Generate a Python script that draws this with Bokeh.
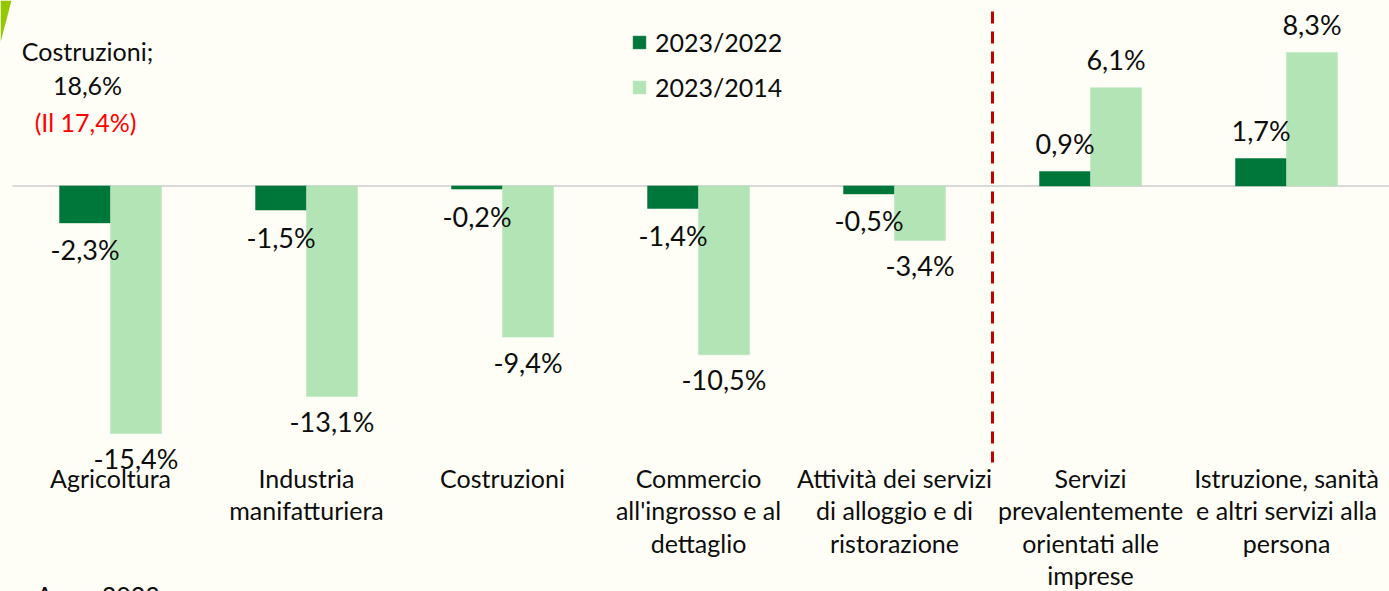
from bokeh.plotting import figure
from bokeh.models import Range1d, ColumnDataSource, Legend, LegendItem
from bokeh.core.properties import value
from bokeh.embed import file_html
from bokeh.resources import INLINE

categories = [
    "Agricoltura",
    "Industria\nmanifatturiera",
    "Costruzioni",
    "Commercio\nall'ingrosso e al\ndettaglio",
    "Attività dei servizi\ndi alloggio e di\nristorazione",
    "Servizi\nprevalentemente\norientati alle\nimprese",
    "Istruzione, sanità\ne altri servizi alla\npersona",
]
v_2023_2022 = [-2.3, -1.5, -0.2, -1.4, -0.5, 0.9, 1.7]
v_2023_2014 = [-15.4, -13.1, -9.4, -10.5, -3.4, 6.1, 8.3]
series_names = ["2023/2022", "2023/2014"]
note_lines = ["Costruzioni;", "18,6%"]
note_red = "(Il 17,4%)"
source_note = "e: Anno 2023"

DARK = "#00773A"
LIGHT = "#B3E4B6"
BG = "#FEFEF6"
FONT = "Lato"
FS_CAT = "25px"
FS_VAL = "27px"
FS_LEG = "25px"
TXT = "#0D0D0D"

W, H = 1389, 591
PX_X = 196.0
PX_Y = 16.08
x0 = -(110.0 / PX_X)
y_top = 185.4 / PX_Y


def dx(px):
    return x0 + px / PX_X


def dy(py):
    return y_top - py / PX_Y


p = figure(width=W, height=H, output_backend="svg", toolbar_location=None,
           x_range=Range1d(x0, x0 + W / PX_X),
           y_range=Range1d(y_top - H / PX_Y, y_top),
           min_border=0, min_border_left=0, min_border_right=0,
           min_border_top=0, min_border_bottom=0)
p.axis.visible = False
p.grid.visible = False
p.outline_line_color = None
p.background_fill_color = BG
p.border_fill_color = BG

idx = list(range(len(categories)))
fmt = lambda v: ("%.1f%%" % v).replace(".", ",")
off = 0.13
bw = 0.26
src = ColumnDataSource(dict(
    x=idx,
    xd=[i - off for i in idx],
    xl=[i + off for i in idx],
    d=v_2023_2022,
    l=v_2023_2014,
    dlab=[fmt(v) for v in v_2023_2022],
    llab=[fmt(v) for v in v_2023_2014],
    dof=[27 if v < 0 else -28 for v in v_2023_2022],
    lof=[25 if v < 0 else -28 for v in v_2023_2014],
    cat=categories,
))

# decorative corner shape
p.patch(x=[dx(0), dx(11), dx(0)], y=[dy(0), dy(0), dy(42)], fill_color="#95C800",
        line_color=None)

# zero line
p.segment(x0=[dx(12)], x1=[dx(W)], y0=[0], y1=[0], line_color="#D9D9D9", line_width=2)

r1 = p.vbar(x="xd", top="d", bottom=0, width=bw, source=src, fill_color=DARK,
            line_color=DARK, line_width=0.5)
r2 = p.vbar(x="xl", top="l", bottom=0, width=bw, source=src, fill_color=LIGHT,
            line_color=LIGHT, line_width=0.5)

p.text(x="xd", y="d", text="dlab", y_offset="dof", source=src, text_align="center",
       text_baseline="middle", text_font=value(FONT), text_font_size=FS_VAL, text_color=TXT)
p.text(x="xl", y="l", text="llab", y_offset="lof", source=src, text_align="center",
       text_baseline="middle", text_font=value(FONT), text_font_size=FS_VAL, text_color=TXT)

# category labels
p.text(x="x", y=0, text="cat", y_offset=277, source=src, text_align="center",
       text_baseline="top", text_font=value(FONT), text_font_size=FS_CAT, text_color=TXT,
       text_line_height=1.08)

# separator
p.segment(x0=[4.5], x1=[4.5], y0=[dy(11)], y1=[dy(462)], line_color="#C00000",
          line_width=3, line_dash="12 8")

# note
p.text(x=[0, 0], y=[0, 0], text=note_lines, x_offset=-23, y_offset=[-135, -101],
       text_align="center", text_baseline="middle", text_font=value(FONT),
       text_font_size=FS_CAT, text_color=TXT)
p.text(x=[0], y=[0], text=[note_red], x_offset=-25, y_offset=[-64],
       text_align="center", text_baseline="middle", text_font=value(FONT),
       text_font_size=FS_CAT, text_color="#FF0000")

# source line (cut by the bottom edge, as in the original)
p.text(x=[dx(160)], y=[dy(579)], text=[source_note], text_align="right",
       text_baseline="top", text_font=value(FONT), text_font_size=FS_CAT, text_color=TXT)

legend = Legend(items=[LegendItem(label=series_names[0], renderers=[r1]),
                       LegendItem(label=series_names[1], renderers=[r2])],
                location=(631, 489), orientation="vertical",
                glyph_width=16, glyph_height=16, label_height=16, spacing=15,
                label_standoff=8, padding=0, margin=0,
                label_text_font=FONT, label_text_font_size=FS_LEG, label_text_color=TXT,
                background_fill_alpha=0, border_line_color=None)
p.add_layout(legend)

open("out.html", "w").write(file_html(p, INLINE))
